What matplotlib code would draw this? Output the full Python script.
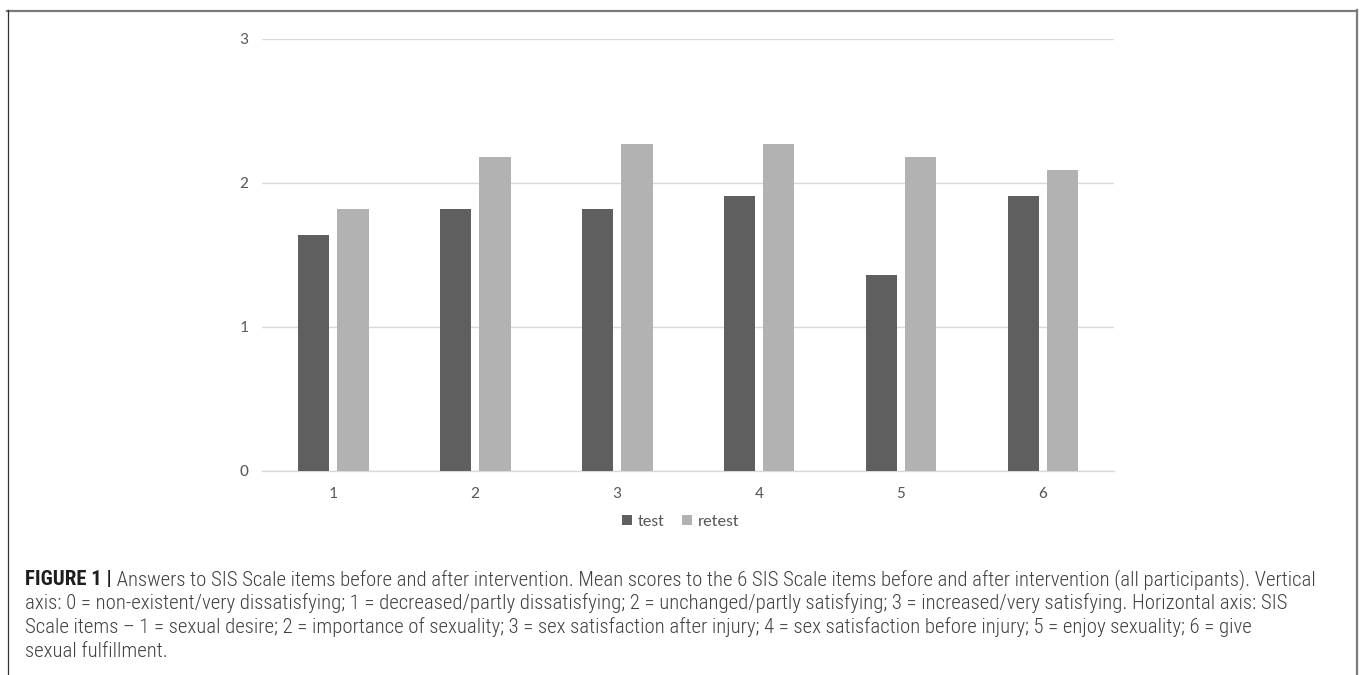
import matplotlib
matplotlib.use("Agg")
import matplotlib.pyplot as plt
from matplotlib.patches import Patch
from matplotlib.lines import Line2D
from matplotlib import font_manager as fm

# ---- data ----
categories = ["1", "2", "3", "4", "5", "6"]
test = [1.64, 1.82, 1.82, 1.91, 1.36, 1.91]
retest = [1.82, 2.18, 2.27, 2.27, 2.18, 2.09]
series_names = ["test", "retest"]
y_ticks = [0, 1, 2, 3]

caption_bold = "FIGURE 1 |"
caption_lines = [
    " Answers to SIS Scale items before and after intervention. Mean scores to the 6 SIS Scale items before and after intervention (all participants). Vertical",
    "axis: 0 = non-existent/very dissatisfying; 1 = decreased/partly dissatisfying; 2 = unchanged/partly satisfying; 3 = increased/very satisfying. Horizontal axis: SIS",
    "Scale items \u2013 1 = sexual desire; 2 = importance of sexuality; 3 = sex satisfaction after injury; 4 = sex satisfaction before injury; 5 = enjoy sexuality; 6 = give",
    "sexual fulfillment.",
]

W, H = 1360, 675
fig = plt.figure(figsize=(W / 100, H / 100), dpi=100)

avail = {f.name for f in fm.fontManager.ttflist}
def pick(cands):
    for c in cands:
        if c in avail:
            return c
    return "DejaVu Sans"

chart_font = pick(["Carlito", "Lato", "Open Sans", "DejaVu Sans"])
cap_font = pick(["Liberation Sans Narrow", "Roboto Condensed", "Roboto", "Liberation Sans"])

dark = "#5f5f5f"
light = "#b2b2b2"
label_col = "#595959"
tick_fs = 12.5

ax = fig.add_axes([262 / W, 1 - 471 / H, (1114 - 262) / W, (471 - 39) / H])
x = list(range(1, len(categories) + 1))
bw = 0.22
gap = 0.06
off = (bw + gap) / 2
ax.bar([v - off for v in x], test, width=bw, color=dark, label=series_names[0], zorder=3)
ax.bar([v + off for v in x], retest, width=bw, color=light, label=series_names[1], zorder=3)

ax.set_xlim(0.5, len(categories) + 0.5)
ax.set_ylim(0, 3)
ax.set_yticks(y_ticks)
ax.set_yticklabels([str(t) for t in y_ticks])
ax.set_xticks(x)
ax.set_xticklabels(categories)
ax.yaxis.grid(True, color="#d9d9d9", linewidth=1.0, zorder=0)
ax.set_axisbelow(True)
for s in ["top", "right", "left"]:
    ax.spines[s].set_visible(False)
ax.spines["bottom"].set_color("#d9d9d9")
ax.spines["bottom"].set_linewidth(1.0)
ax.tick_params(axis="both", length=0, colors=label_col, labelsize=tick_fs)
ax.tick_params(axis="x", pad=11.5)
ax.tick_params(axis="y", pad=10)
for lab in ax.get_xticklabels() + ax.get_yticklabels():
    lab.set_fontfamily(chart_font)

handles = [Patch(facecolor=dark, edgecolor="none"), Patch(facecolor=light, edgecolor="none")]
leg = fig.legend(handles, series_names, loc="center", bbox_to_anchor=(681 / W, 1 - 522 / H),
                 ncol=2, frameon=False, handlelength=0.55, handleheight=0.55,
                 handletextpad=0.35, columnspacing=1.0,
                 prop={"family": chart_font, "size": tick_fs})
for t in leg.get_texts():
    t.set_color(label_col)

# frame
fig.add_artist(Line2D([7 / W, 1357 / W], [1 - 10.5 / H, 1 - 10.5 / H], color="#7a7a7a", lw=1.6))
fig.add_artist(Line2D([8 / W, 8 / W], [1 - 10 / H, 0], color="#333333", lw=0.9))
fig.add_artist(Line2D([1356.5 / W, 1356.5 / W], [1 - 10 / H, 0], color="#7a7a7a", lw=1.6))

# caption
cap_col = "#404040"
x0 = 25 / W
baselines = [585, 609, 633, 657]
fs = 12
renderer = fig.canvas.get_renderer()
tb = fig.text(x0, 1 - baselines[0] / H, caption_bold, fontsize=fs, fontweight="bold",
              family=cap_font, color="#1e1e1e", va="baseline", ha="left")
t1 = fig.text(x0, 1 - baselines[0] / H, caption_lines[0], fontsize=fs, family=cap_font,
              fontweight="light", color=cap_col, va="baseline", ha="left")
target_right = 1317
for _ in range(4):
    bb = tb.get_window_extent(renderer)
    t1.set_x(bb.x1 / W)
    b1 = t1.get_window_extent(renderer)
    total = b1.x1 - bb.x0
    fs = fs * (target_right - 25) / total
    tb.set_fontsize(fs)
    t1.set_fontsize(fs)
bb = tb.get_window_extent(renderer)
t1.set_x(bb.x1 / W)
for i, line in enumerate(caption_lines[1:], start=1):
    fig.text(x0, 1 - baselines[i] / H, line, fontsize=fs, family=cap_font,
             fontweight="light", color=cap_col, va="baseline", ha="left")

fig.savefig("out.png", dpi=100)
